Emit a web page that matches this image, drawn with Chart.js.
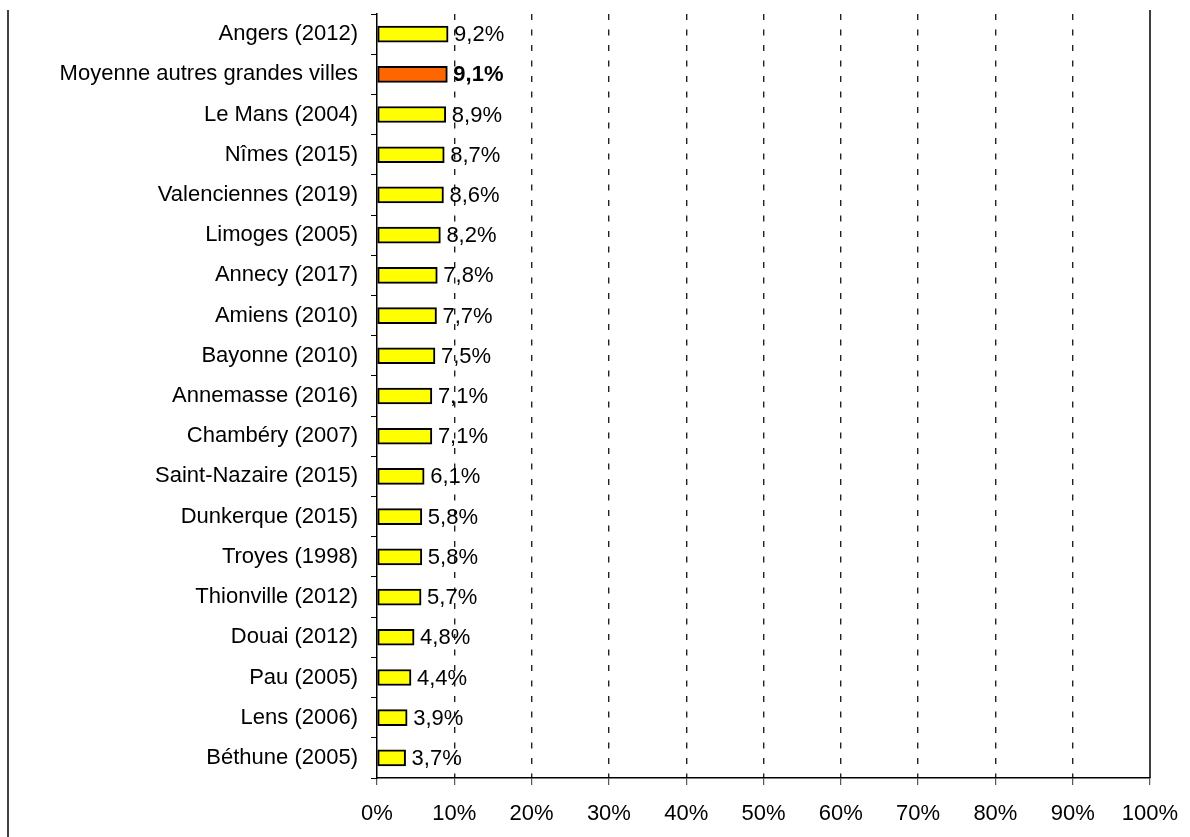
<!DOCTYPE html>
<html>
<head>
<meta charset="utf-8">
<script src="https://cdn.jsdelivr.net/npm/chart.js@4.4.0/dist/chart.umd.min.js"></script>
<style>
body { margin: 0; background: #fff; }
#wrap { width: 1190px; height: 837px; position: relative; }
</style>
</head>
<body>
<div id="wrap"><canvas id="myChart"></canvas></div>
<script>
var villes = [
    'Angers (2012)',
    'Moyenne autres grandes villes',
    'Le Mans (2004)',
    'Nîmes (2015)',
    'Valenciennes (2019)',
    'Limoges (2005)',
    'Annecy (2017)',
    'Amiens (2010)',
    'Bayonne (2010)',
    'Annemasse (2016)',
    'Chambéry (2007)',
    'Saint-Nazaire (2015)',
    'Dunkerque (2015)',
    'Troyes (1998)',
    'Thionville (2012)',
    'Douai (2012)',
    'Pau (2005)',
    'Lens (2006)',
    'Béthune (2005)'
]
var taux = [9.2, 9.1, 8.9, 8.7, 8.6, 8.2, 7.8, 7.7, 7.5, 7.1, 7.1, 6.1, 5.8, 5.8, 5.7, 4.8, 4.4, 3.9, 3.7]
var graduations = [0, 10, 20, 30, 40, 50, 60, 70, 80, 90, 100]
var moyenne = 'Moyenne autres grandes villes'

var police = '"Liberation Sans", Arial, sans-serif'
Chart.defaults.font.family = police
Chart.defaults.color = '#000'

// etiquettes de valeur a droite des barres
var etiquettes = {
    id: 'etiquettes',
    afterDatasetsDraw: function (chart) {
        var ctx = chart.ctx
        var meta = chart.getDatasetMeta(0)
        ctx.save()
        ctx.fillStyle = '#000'
        ctx.textBaseline = 'middle'
        ctx.textAlign = 'left'
        meta.data.forEach(function (bar, i) {
            ctx.font = (villes[i] == moyenne ? 'bold ' : '') + '22px ' + police
            ctx.fillText(taux[i].toFixed(1).replace('.', ',') + '%', bar.x + 6, bar.y + 1)
        })
        ctx.restore()
    }
}

// cadre : bord droit + trait vertical a gauche
var cadre = {
    id: 'cadre',
    afterDraw: function (chart) {
        var ctx = chart.ctx
        var area = chart.chartArea
        ctx.save()
        ctx.strokeStyle = '#000'
        ctx.lineWidth = 1.5
        ctx.beginPath()
        ctx.moveTo(area.right, area.top - 4)
        ctx.lineTo(area.right, area.bottom)
        ctx.moveTo(8, 10)
        ctx.lineTo(8, chart.height)
        ctx.stroke()
        ctx.restore()
    }
}

const ctx = document.getElementById('myChart')
new Chart(ctx, {
    type: 'bar',
    data: {
        labels: villes,
        datasets: [{
            data: taux,
            backgroundColor: function (c) { return villes[c.dataIndex] == moyenne ? '#ff6600' : '#ffff00' },
            borderColor: '#000',
            borderWidth: 2,
            borderSkipped: false,
            barThickness: 16
        }]
    },
    options: {
        indexAxis: 'y',
        responsive: true,
        maintainAspectRatio: false,
        animation: false,
        layout: { padding: { top: 14, right: 40, left: 0, bottom: 0 } },
        plugins: {
            legend: { display: false },
            tooltip: { enabled: false }
        },
        scales: {
            x: {
                min: 0,
                max: 100,
                afterBuildTicks: function (s) { s.ticks = graduations.map(function (v) { return { value: v } }) },
                ticks: {
                    callback: function (v) { return v + '%' },
                    font: { size: 22 },
                    padding: 16,
                    maxRotation: 0
                },
                grid: {
                    color: function (c) {
                        if (c.tick && (c.tick.value == 0 || c.tick.value == 100)) return 'rgba(0,0,0,0)'
                        return '#222'
                    },
                    lineWidth: 1.4,
                    tickLength: 7,
                    tickColor: '#333',
                    tickWidth: 1
                },
                border: { color: '#000', width: 1.5, dash: [6, 9.5] },
                afterFit: function (s) { s.height = 59; s.paddingLeft = 0; s.paddingRight = 0 }
            },
            y: {
                ticks: { font: { size: 22 }, padding: 13, autoSkip: false },
                grid: { offset: true, drawOnChartArea: false, tickLength: 6, tickColor: '#000', tickWidth: 1 },
                border: { color: '#000', width: 1.5 },
                afterFit: function (s) { s.width = 377; s.paddingTop = 0; s.paddingBottom = 0 }
            }
        }
    },
    plugins: [etiquettes, cadre]
})
</script>
</body>
</html>
